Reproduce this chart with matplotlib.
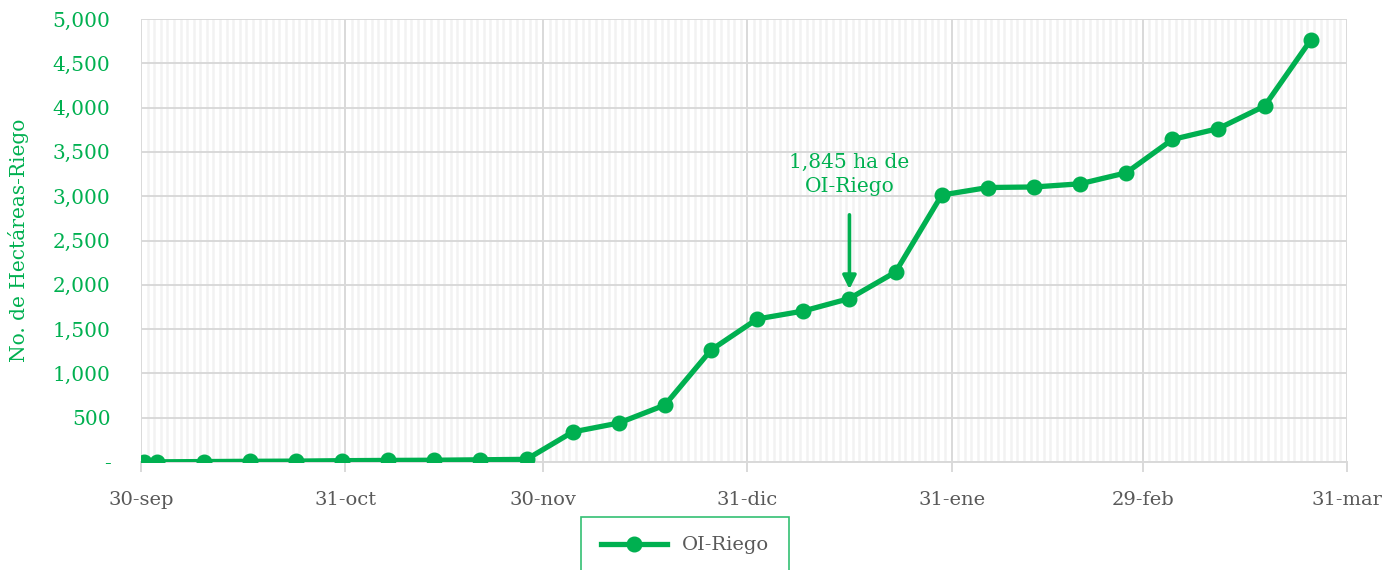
import pandas as pd
import matplotlib.pyplot as plt
import matplotlib.dates as mdates

# weekly cumulative hectares (OI-Riego)
fechas = ['2023-09-30', '2023-10-02', '2023-10-09', '2023-10-16', '2023-10-23',
          '2023-10-30', '2023-11-06', '2023-11-13', '2023-11-20', '2023-11-27',
          '2023-12-04', '2023-12-11', '2023-12-18', '2023-12-25', '2024-01-01',
          '2024-01-08', '2024-01-15', '2024-01-22', '2024-01-29', '2024-02-05',
          '2024-02-12', '2024-02-19', '2024-02-26', '2024-03-04', '2024-03-11',
          '2024-03-18', '2024-03-25']
hectareas = [0, 2, 5, 8, 10, 15, 18, 20, 25, 30,
             339, 440, 643, 1264, 1614, 1704, 1845, 2144, 3013, 3098,
             3104, 3140, 3264, 3640, 3764, 4018, 4763]

tick_fechas = ['2023-09-30', '2023-10-31', '2023-11-30', '2023-12-31',
               '2024-01-31', '2024-02-29', '2024-03-31']
tick_labels = ['30-sep', '31-oct', '30-nov', '31-dic', '31-ene', '29-feb', '31-mar']

verde = '#00B050'
gris = '#595959'
plt.rcParams['font.family'] = ['DejaVu Serif']

x = pd.to_datetime(fechas) + pd.Timedelta(hours=12)  # excel puts points mid-day
ticks = pd.to_datetime(tick_fechas)

fig = plt.figure(figsize=(13.92, 5.7), dpi=100)
ax = fig.add_axes([141 / 1392, 1 - 462 / 570, (1347 - 141) / 1392, (462 - 19) / 570])

ax.plot(x, hectareas, color=verde, lw=3.8, marker='o', markersize=10.5, label='OI-Riego',
        zorder=3)

ax.set_xlim(ticks[0], ticks[-1])
ax.set_ylim(0, 5000)
ax.set_xticks(ticks)
ax.set_xticklabels(tick_labels)
ax.xaxis.set_minor_locator(mdates.DayLocator())
ax.set_yticks(range(0, 5001, 500))
ax.set_yticklabels(['-'] + [f'{v:,}' for v in range(500, 5001, 500)])

ax.grid(True, which='minor', axis='x', color='#f2f2f2', lw=1.8)
ax.grid(True, which='major', axis='both', color='#d9d9d9', lw=1.4)
ax.set_axisbelow(True)

for s in ['top', 'right', 'left']:
    ax.spines[s].set_visible(False)
ax.spines['bottom'].set_color('#d9d9d9')
ax.spines['bottom'].set_linewidth(1.4)

ax.tick_params(axis='x', which='major', colors='#d9d9d9', length=7, width=1.4, pad=14,
               labelcolor=gris, labelsize=14)
ax.tick_params(axis='x', which='minor', length=0)
ax.tick_params(axis='y', length=0, pad=22, labelcolor=verde, labelsize=14.5)

ax.set_ylabel('No. de Hectáreas-Riego', color=verde, fontsize=14.5, labelpad=17)

ax.text(x[16], 3000, '1,845 ha de\nOI-Riego', ha='center', va='bottom', color=verde,
        fontsize=14.5, linespacing=1.35)
ax.annotate('', xy=(x[16], 1950), xytext=(x[16], 2790),
            arrowprops=dict(arrowstyle='-|>', color=verde, lw=2.6, mutation_scale=20,
                            shrinkA=0, shrinkB=0))

leg = fig.legend(loc='upper center', bbox_to_anchor=(685 / 1392, 1 - 517 / 570),
                 frameon=True, fancybox=False, fontsize=14, borderpad=1.0,
                 handlelength=3.4, borderaxespad=0, labelcolor=gris)
leg.get_frame().set_edgecolor(verde)
leg.get_frame().set_linewidth(1.2)

fig.savefig('out.png', dpi=100)
